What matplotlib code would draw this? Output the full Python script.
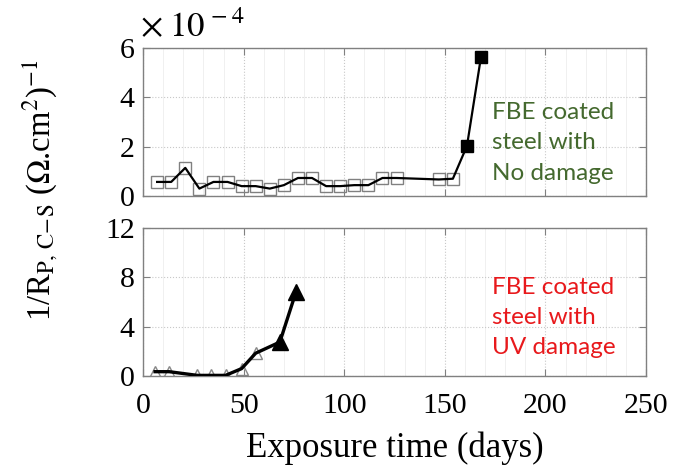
import numpy as np
import matplotlib
matplotlib.use('Agg')
import matplotlib.pyplot as plt
from matplotlib.ticker import MultipleLocator

plt.rcParams['font.family'] = ['Liberation Serif', 'DejaVu Serif']
plt.rcParams['mathtext.fontset'] = 'stix'

# No damage (x 1e-4)
nd_days = [7, 14, 21, 28, 35, 42, 49, 56, 63, 70, 77, 84, 91, 98, 105, 112, 119, 126, 147, 154, 161, 168]
nd_vals = [0.57, 0.57, 1.14, 0.30, 0.57, 0.57, 0.40, 0.40, 0.30, 0.44, 0.73, 0.73, 0.40, 0.40, 0.44, 0.44,
           0.73, 0.73, 0.67, 0.70, 2.03, 5.65]
nd_filled = [False] * 20 + [True, True]

# UV damage (x 1e-4)
uv_days = [6, 13, 27, 34, 41, 49, 56, 68, 76]
uv_vals = [0.35, 0.35, 0.05, 0.05, 0.05, 0.60, 1.85, 2.75, 6.8]
uv_filled = [False] * 7 + [True, True]

nd_days = np.array(nd_days); nd_vals = np.array(nd_vals); nd_filled = np.array(nd_filled)
uv_days = np.array(uv_days); uv_vals = np.array(uv_vals); uv_filled = np.array(uv_filled)

fig = plt.figure(figsize=(6.85, 4.69), dpi=100)
ax1 = fig.add_axes([0.2088, 0.5821, 0.7343, 0.3156])
ax2 = fig.add_axes([0.2088, 0.1983, 0.7343, 0.3156])

spine_col = '#808080'
for ax in (ax1, ax2):
    ax.set_xlim(0, 250)
    ax.xaxis.set_major_locator(MultipleLocator(50))
    ax.xaxis.set_minor_locator(MultipleLocator(10))
    ax.grid(which='major', linestyle=':', color='#c8c8c8', linewidth=0.8)
    ax.grid(which='minor', axis='x', linestyle='-', color='#eeeeee', linewidth=0.6)
    ax.set_axisbelow(True)
    ax.tick_params(which='major', direction='in', top=True, right=True, length=5,
                   color=spine_col, labelsize=21.5, pad=6)
    ax.tick_params(axis='x', which='major', pad=12)
    ax.tick_params(which='minor', length=0)
    for s in ax.spines.values():
        s.set_color(spine_col)
        s.set_linewidth(1.0)

# top panel
ax1.set_ylim(0, 6)
ax1.set_yticks([0, 2, 4, 6])
ax1.set_xticklabels([])
ax1.plot(nd_days[~nd_filled], nd_vals[~nd_filled], 's', ms=8, mfc='none', mec='#808080', mew=1.0, zorder=2)
ax1.plot(nd_days, nd_vals, '-', color='black', lw=1.6, zorder=3)
ax1.plot(nd_days[nd_filled], nd_vals[nd_filled], 's', ms=9, mfc='black', mec='black', zorder=4)
ax1.text(173.5, 2.15, 'FBE coated\nsteel with\nNo damage', color='#44692e', fontsize=17.5,
         family=['Lato', 'DejaVu Sans'], va='center', ha='left', linespacing=1.55)

# bottom panel
ax2.set_ylim(0, 12)
ax2.set_yticks([0, 4, 8, 12])
ax2.plot(uv_days[~uv_filled], uv_vals[~uv_filled], '^', ms=9, mfc='none', mec='#888888', mew=1.0, zorder=2)
ax2.plot(uv_days, uv_vals, '-', color='black', lw=2.4, zorder=3)
ax2.plot(uv_days[uv_filled], uv_vals[uv_filled], '^', ms=12, mfc='black', mec='black', zorder=4)
ax2.text(173.5, 4.75, 'FBE coated\nsteel with\nUV damage', color='#e8191c', fontsize=17.5,
         family=['Lato', 'DejaVu Sans'], va='center', ha='left', linespacing=1.55)
ax2.set_xlabel('Exposure time (days)', fontsize=25, labelpad=9)

fig.text(140 / 685, 1 - 37 / 469, r'$\times\;10^{\,-4}$', fontsize=25, va='baseline', ha='left')
fig.text(40 / 685, 1 - 190 / 469, r'1/R$_{\mathrm{P,\,C\!-\!S}}$ ($\Omega$.cm$^2$)$^{-1}$',
         rotation=90, fontsize=23.5, ha='center', va='center')

plt.savefig('out.png', dpi=100)
